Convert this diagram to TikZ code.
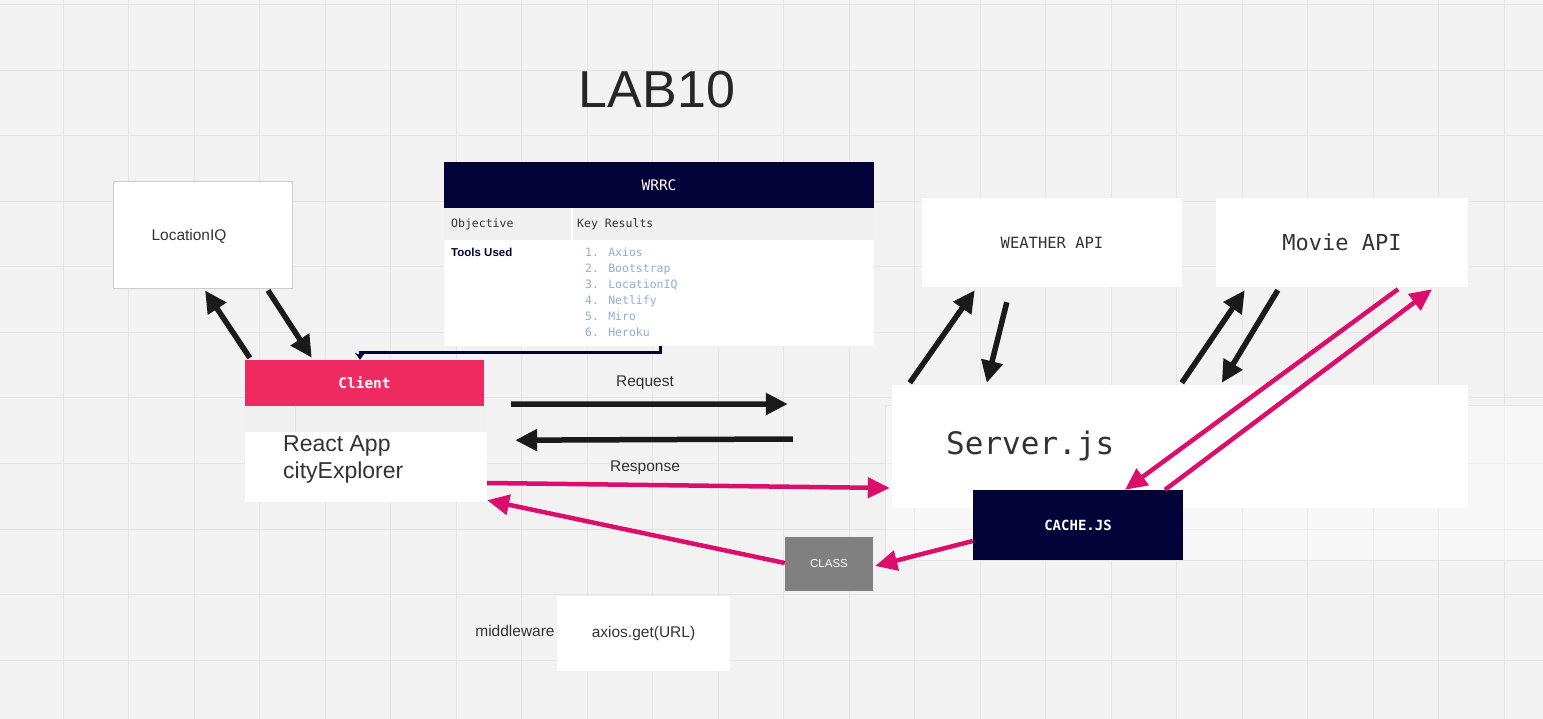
\documentclass[tikz,border=0pt]{standalone}
\usepackage{fontspec}
\setmainfont{Liberation Sans}
\newfontfamily\codefont{DejaVu Sans Mono}
\usetikzlibrary{arrows.meta}
\definecolor{boardgray}{HTML}{F2F2F2}
\definecolor{gridgray}{HTML}{E4E4E4}
\definecolor{navy}{HTML}{03033A}
\definecolor{clientpink}{HTML}{EE2A60}
\definecolor{arrowpink}{HTML}{DC0E6B}
\definecolor{arrowblack}{HTML}{1A1A1A}
\definecolor{classgray}{HTML}{808080}
\definecolor{listblue}{HTML}{8CB0D8}
\definecolor{textgray}{HTML}{333333}
\tikzset{
    panel/.style={fill=white, inner sep=0pt},
    headbar/.style={fill=navy, inner sep=0pt, text=white},
    rowbar/.style={fill=black!6, inner sep=0pt},
    label/.style={text=textgray, inner sep=0pt},
    gridline/.style={draw=gridgray, line width=1pt},
    blackarrow/.style={draw=arrowblack, line width=5.5pt, -{Triangle[length=22pt,width=21pt]}},
    pinkarrow/.style={draw=arrowpink, line width=4.5pt, -{Triangle[length=22pt,width=20pt]}},
    navyline/.style={draw=navy, line width=3pt, -{Stealth[length=7pt,width=10pt]}}}

\begin{document}
\begin{tikzpicture}[x=1pt, y=-1pt]
\useasboundingbox (0,0) rectangle (1543,719);
\fill[boardgray] (0,0) rectangle (1543,719);
\foreach \gx in {0,...,23}
    \draw[gridline] (63+65.5*\gx,0) -- ++(0,719);
\foreach \gy in {0,...,10}
    \draw[gridline] (0,5+65.5*\gy) -- ++(1543,0);
\fill[white, fill opacity=0.4, draw=gridgray] (885,405) rectangle (1560,560);

% title
\node[text=black!85, inner sep=0pt, font=\fontsize{52}{60}\selectfont] (title) at (657,90) {LAB10};

% LocationIQ
\node[panel, draw=black!20, line width=0.8pt, minimum width=179pt, minimum height=107pt] (locq) at (202.5,234.5) {};
\node[label, font=\fontsize{15.5}{18}\selectfont] (locqtext) at (189,236) {LocationIQ};

% WRRC table
\node[headbar, minimum width=430pt, minimum height=46pt, font=\codefont\fontsize{14.5}{17}\selectfont] (wrrc) at (659,185) {WRRC};
\node[rowbar, minimum width=430pt, minimum height=32pt] (wrrcrow) at (659,224) {};
\draw[white, line width=2pt] (572,208) -- (572,240);
\node[panel, minimum width=430pt, minimum height=106pt] (wrrcbody) at (659,293) {};
\node[label, anchor=west, font=\codefont\fontsize{11.5}{14}\selectfont] (objective) at (451,224) {Objective};
\node[label, anchor=west, font=\codefont\fontsize{11.5}{14}\selectfont] (keyresults) at (577,224) {Key Results};
\node[text=navy, inner sep=0pt, anchor=west, font=\bfseries\fontsize{11.5}{14}\selectfont] (tools) at (451,252) {Tools Used};
\node[text=listblue, inner sep=0pt, anchor=west, align=left, font=\codefont\fontsize{11.5}{16}\selectfont] (toollist) at (585,292)
    {1. Axios\\2. Bootstrap\\3. LocationIQ\\4. Netlify\\5. Miro\\6. Heroku};

% client
\node[fill=clientpink, inner sep=0pt, text=white, minimum width=239pt, minimum height=46pt, font=\codefont\bfseries\fontsize{14.5}{17}\selectfont] (clienthead) at (364.5,383) {Client};
\node[rowbar, minimum width=242pt, minimum height=26pt] (clientrow) at (366,419) {};
\draw[black!12, line width=1pt] (295,406) -- (295,432);
\node[panel, minimum width=242pt, minimum height=70pt] (clientbody) at (366,467) {};
\node[label, anchor=west, align=left, font=\fontsize{23}{27}\selectfont] (reactapp) at (283,459.5) {React App\\cityExplorer};

% APIs and server
\node[panel, minimum width=260pt, minimum height=89pt, text=textgray, font=\codefont\fontsize{15.5}{18}\selectfont] (weather) at (1052,242.5) {WEATHER API};
\node[panel, minimum width=252pt, minimum height=89pt, text=textgray, font=\codefont\fontsize{22}{26}\selectfont] (movie) at (1342,242.5) {Movie API};
\node[panel, minimum width=576pt, minimum height=123pt] (server) at (1180,446.5) {};
\node[label, anchor=west, font=\codefont\fontsize{31}{36}\selectfont] (servertext) at (946,446) {Server.js};
\node[headbar, minimum width=210pt, minimum height=70pt, font=\codefont\bfseries\fontsize{14}{17}\selectfont] (cache) at (1078,525) {CACHE.JS};
\node[fill=classgray, inner sep=0pt, text=white, minimum width=88pt, minimum height=54pt, font=\fontsize{11.5}{14}\selectfont] (class) at (829,564) {CLASS};

% middleware
\node[panel, minimum width=173pt, minimum height=75pt, text=textgray, font=\fontsize{15.5}{18}\selectfont] (axios) at (643.5,633.5) {axios.get(URL)};
\node[label, font=\fontsize{15.5}{18}\selectfont] (middleware) at (515,631) {middleware};

% request / response labels
\node[label, font=\fontsize{15.5}{18}\selectfont] (request) at (645,383) {Request};
\node[label, font=\fontsize{15.5}{18}\selectfont] (response) at (645,468) {Response};

% connectors
\draw[navyline] ([xshift=1pt]wrrcbody.south) -- ++(0,6) -| ([shift={(-4.5,0)}]clienthead.north);
\draw[blackarrow] ([shift={(5,-2)}]clienthead.north west) -- ([shift={(2.5,2)}]locq.south);
\draw[blackarrow] ([shift={(65.5,2)}]locq.south) -- ([shift={(67,-2)}]clienthead.north west);
\draw[blackarrow] ([shift={(27,-2)}]clienthead.south east) -- ([shift={(-104,-42.5)}]server.west);
\draw[blackarrow] ([shift={(-99,-7.5)}]server.west) -- ([shift={(28,8)}]clientrow.south east);
\draw[blackarrow] ([shift={(18,-2)}]server.north west) -- ([shift={(53,3)}]weather.south west);
\draw[blackarrow] ([shift={(85,15)}]weather.south west) -- ([shift={(95,-2)}]server.north west);
\draw[blackarrow] ([shift={(290,-2)}]server.north west) -- ([shift={(29,3)}]movie.south west);
\draw[blackarrow] ([shift={(62,3)}]movie.south west) -- ([shift={(330,-2)}]server.north west);
\draw[pinkarrow] ([shift={(0,16)}]clientbody.east) -- ([shift={(-2,41.5)}]server.west);
\draw[pinkarrow] ([shift={(0,-1)}]class.west) -- ([shift={(0,-2)}]clientbody.south east);
\draw[pinkarrow] ([shift={(0,16)}]cache.west) -- ([shift={(2,2)}]class.east);
\draw[pinkarrow] ([shift={(56,2)}]movie.south) -- ([shift={(47,0)}]cache.north);
\draw[pinkarrow] ([shift={(87,0)}]cache.north) -- ([shift={(90,2)}]movie.south);
\end{tikzpicture}
\end{document}
